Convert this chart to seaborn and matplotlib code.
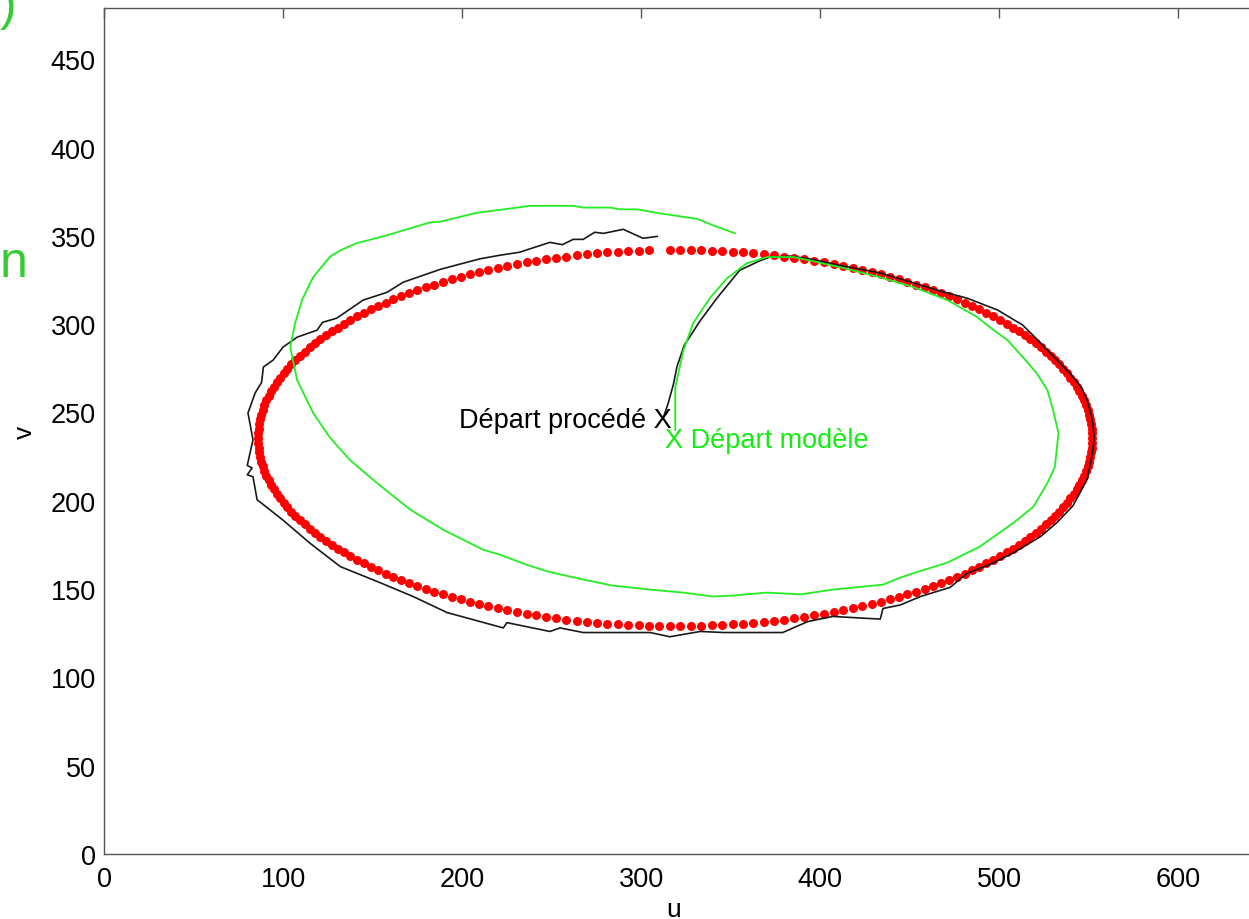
import matplotlib
matplotlib.use("Agg")
import matplotlib.pyplot as plt
import pandas as pd
import seaborn as sns

# trajectoire de référence (points rouges), par quart d'ellipse
ref_u_q1 = [316.1, 321.9, 327.8, 333.6, 339.5, 345.3, 351.1, 356.9, 362.7, 368.4, 374.1, 379.8, 385.4,
            391.0, 396.5, 402.0, 407.5, 412.9, 418.2, 423.5, 428.7, 433.8, 438.9, 443.8, 448.7, 453.6,
            458.3, 463.0, 467.5, 472.0, 476.4, 480.6, 484.8, 488.9, 492.8, 496.6, 500.4, 504.0, 507.5,
            510.9, 514.1, 517.3, 520.3, 523.2, 525.9, 528.6, 531.1, 533.4, 535.6, 537.7, 539.7, 541.5,
            543.2, 544.7, 546.1, 547.3, 548.4, 549.4, 550.2, 550.8, 551.3, 551.7, 551.9, 552.0]
ref_v_q1 = [342.0, 342.0, 341.9, 341.8, 341.6, 341.3, 341.0, 340.6, 340.1, 339.6, 339.0, 338.3, 337.6,
            336.8, 335.9, 335.0, 334.0, 333.0, 331.9, 330.7, 329.5, 328.2, 326.8, 325.4, 324.0, 322.4,
            320.9, 319.2, 317.6, 315.8, 314.0, 312.2, 310.3, 308.4, 306.4, 304.4, 302.3, 300.2, 298.1,
            295.9, 293.7, 291.4, 289.1, 286.8, 284.4, 282.1, 279.6, 277.2, 274.7, 272.2, 269.7, 267.1,
            264.6, 262.0, 259.4, 256.8, 254.1, 251.5, 248.8, 246.2, 243.5, 240.9, 238.2, 235.5]
ref_u_q2 = [551.9, 551.7, 551.3, 550.8, 550.2, 549.4, 548.4, 547.3, 546.1, 544.7, 543.2, 541.5, 539.7,
            537.7, 535.6, 533.4, 531.1, 528.6, 525.9, 523.2, 520.3, 517.3, 514.1, 510.9, 507.5, 504.0,
            500.4, 496.6, 492.8, 488.9, 484.8, 480.6, 476.4, 472.0, 467.5, 463.0, 458.3, 453.6, 448.7,
            443.8, 438.9, 433.8, 428.7, 423.5, 418.2, 412.9, 407.5, 402.0, 396.5, 391.0, 385.4, 379.8,
            374.1, 368.4, 362.7, 356.9, 351.1, 345.3, 339.5, 333.6, 327.8, 321.9]
ref_v_q2 = [232.8, 230.1, 227.5, 224.8, 222.2, 219.5, 216.9, 214.2, 211.6, 209.0, 206.4, 203.9, 201.3,
            198.8, 196.3, 193.8, 191.4, 188.9, 186.6, 184.2, 181.9, 179.6, 177.3, 175.1, 172.9, 170.8,
            168.7, 166.6, 164.6, 162.6, 160.7, 158.8, 157.0, 155.2, 153.4, 151.8, 150.1, 148.6, 147.0,
            145.6, 144.2, 142.8, 141.5, 140.3, 139.1, 138.0, 137.0, 136.0, 135.1, 134.2, 133.4, 132.7,
            132.0, 131.4, 130.9, 130.4, 130.0, 129.7, 129.4, 129.2, 129.1, 129.0]
ref_u_q3 = [316.1, 310.2, 304.4, 298.5, 292.7, 286.9, 281.1, 275.3, 269.6, 263.9, 258.2, 252.6, 247.0,
            241.5, 236.0, 230.5, 225.1, 219.8, 214.5, 209.3, 204.2, 199.1, 194.2, 189.3, 184.4, 179.7,
            175.0, 170.5, 166.0, 161.6, 157.4, 153.2, 149.1, 145.2, 141.4, 137.6, 134.0, 130.5, 127.1,
            123.9, 120.7, 117.7, 114.8, 112.1, 109.4, 106.9, 104.6, 102.4, 100.3, 98.3, 96.5, 94.8,
            93.3, 91.9, 90.7, 89.6, 88.6, 87.8, 87.2, 86.7, 86.3, 86.1, 86.0]
ref_v_q3 = [129.0, 129.1, 129.2, 129.4, 129.7, 130.0, 130.4, 130.9, 131.4, 132.0, 132.7, 133.4, 134.2,
            135.1, 136.0, 137.0, 138.0, 139.1, 140.3, 141.5, 142.8, 144.2, 145.6, 147.0, 148.6, 150.1,
            151.8, 153.4, 155.2, 157.0, 158.8, 160.7, 162.6, 164.6, 166.6, 168.7, 170.8, 172.9, 175.1,
            177.3, 179.6, 181.9, 184.2, 186.6, 188.9, 191.4, 193.8, 196.3, 198.8, 201.3, 203.9, 206.4,
            209.0, 211.6, 214.2, 216.9, 219.5, 222.2, 224.8, 227.5, 230.1, 232.8, 235.5]
ref_u_q4 = [86.1, 86.3, 86.7, 87.2, 87.8, 88.6, 89.6, 90.7, 91.9, 93.3, 94.8, 96.5, 98.3, 100.3,
            102.4, 104.6, 106.9, 109.4, 112.1, 114.8, 117.7, 120.7, 123.9, 127.1, 130.5, 134.0, 137.6,
            141.4, 145.2, 149.1, 153.2, 157.4, 161.6, 166.0, 170.5, 175.0, 179.7, 184.4, 189.3, 194.2,
            199.1, 204.2, 209.3, 214.5, 219.8, 225.1, 230.5, 236.0, 241.5, 247.0, 252.6, 258.2, 263.9,
            269.6, 275.3, 281.1, 286.9, 292.7, 298.5, 304.4]
ref_v_q4 = [238.2, 240.9, 243.5, 246.2, 248.8, 251.5, 254.1, 256.8, 259.4, 262.0, 264.6, 267.1, 269.7,
            272.2, 274.7, 277.2, 279.6, 282.1, 284.4, 286.8, 289.1, 291.4, 293.7, 295.9, 298.1, 300.2,
            302.3, 304.4, 306.4, 308.4, 310.3, 312.2, 314.0, 315.8, 317.6, 319.2, 320.9, 322.4, 324.0,
            325.4, 326.8, 328.2, 329.5, 330.7, 331.9, 333.0, 334.0, 335.0, 335.9, 336.8, 337.6, 338.3,
            339.0, 339.6, 340.1, 340.6, 341.0, 341.3, 341.6, 341.8]

# trajectoire du procédé (noir)
proc_u = [312.5, 315, 318, 320, 324, 333, 342.5, 355, 366.5, 372, 383, 394, 410, 433.5, 450, 466, 482,
          499, 513, 518.5, 528.5, 539.6, 546, 549, 552, 553, 552, 549, 541, 532, 523, 508, 495, 482,
          472.6, 456, 444.7, 435, 433.5, 407, 393, 379, 346, 333, 316, 305, 267.6, 254.7, 249, 225, 223,
          191.6, 172.6, 154, 132, 115, 100, 85.5, 83.2, 80, 82.7, 80, 83.2, 80.4, 84.4, 88, 89, 94.4,
          100, 107.8, 119, 122, 130, 144.7, 158, 167, 187.7, 210, 221, 232, 249, 256, 262, 267.6, 274,
          279, 290, 301, 309]
proc_v = [247.5, 255, 266, 276, 288, 302, 315, 330.5, 336, 338, 338.5, 337, 333.5, 329, 324, 319, 314.7,
          308, 299.5, 294, 283.6, 272, 264, 257, 245.8, 236, 227, 212, 197, 187.5, 179.7, 170.6, 164, 159,
          151, 145.8, 141, 139, 133, 134.5, 131.6, 125.4, 125.4, 126, 123, 125.4, 125.4, 128, 126, 131,
          128, 136.7, 145.8, 153.7, 162.7, 176, 189, 200.6, 213.6, 214.7, 218.6, 220, 234.5, 249.7, 261,
          267, 275.7, 279.6, 287, 292.6, 296.6, 301, 303.4, 313.6, 318, 323.7, 331, 337, 339, 340.7,
          346.3, 345, 348, 348, 352, 351.4, 353.7, 348.6, 349.7]

# trajectoire du modèle (vert)
mod_u = [319, 319, 323.5, 329, 338.5, 348, 359, 370.4, 385, 394.4, 412, 433.5, 452, 471, 487.7, 495,
         504.5, 513.4, 521, 526.8, 530, 533, 531, 526.8, 519, 508, 489, 471, 452, 444.7, 435, 407, 389,
         370, 351, 340, 323.5, 305, 284, 267.6, 247.5, 236, 221, 211.7, 189.4, 171, 152.5, 137.4, 126,
         116.8, 107.8, 104, 106.7, 110.6, 115, 116.8, 126, 132, 141, 158, 182, 187.7, 208, 227, 238,
         262, 267.6, 282.7, 288, 297.8, 310.6, 318, 331.3, 340, 352.5]
mod_v = [240, 264, 285, 300.5, 315, 326, 334.5, 338, 338, 336, 332, 326.5, 321, 313.6, 304, 298, 291,
         281, 272, 262.7, 251.4, 238.4, 219, 210, 196.6, 187.6, 174, 165, 159, 156.5, 152.5, 149.7, 147,
         148, 146.3, 145.8, 148, 149.7, 152, 155.4, 160, 163.8, 169.5, 172.3, 183.6, 195, 210, 223, 236,
         249.7, 268.4, 287, 300.5, 313.6, 323, 326.5, 338, 341.8, 345.8, 350.3, 357.6, 358, 363, 365.5,
         367, 367, 366, 366, 365, 365, 362.7, 361.6, 359.6, 356, 351.4]

x_ticks = [0, 100, 200, 300, 400, 500, 600]
y_ticks = [0, 50, 100, 150, 200, 250, 300, 350, 400, 450]

ref = pd.DataFrame({"u": ref_u_q1 + ref_u_q2 + ref_u_q3 + ref_u_q4,
                    "v": ref_v_q1 + ref_v_q2 + ref_v_q3 + ref_v_q4})
proc = pd.DataFrame({"u": proc_u, "v": proc_v})
mod = pd.DataFrame({"u": mod_u, "v": mod_v})

sns.set_style("white")
plt.rcParams['font.family'] = ['Liberation Sans', 'DejaVu Sans']

fig = plt.figure(figsize=(12.49, 9.2), dpi=100)
ax = fig.add_axes([104 / 1249, 65 / 920, 1155 / 1249, 846 / 920])

sns.scatterplot(data=ref, x="u", y="v", color="#ff0000", s=42, linewidth=0, ax=ax, zorder=2)
sns.lineplot(data=proc, x="u", y="v", sort=False, estimator=None, color="#1a1a1a", lw=1.2, ax=ax, zorder=3)
sns.lineplot(data=mod, x="u", y="v", sort=False, estimator=None, color="#22ee22", lw=1.3, ax=ax, zorder=3)

ax.text(317.3, 241.7, "Départ procédé X", ha="right", va="baseline", fontsize=19.5, color="black")
ax.text(313.4, 230.6, "X Départ modèle", ha="left", va="baseline", fontsize=19.5, color="#11ee11")

ax.set_xlim(0, 645)
ax.set_ylim(0, 479)
ax.set_xticks(x_ticks)
ax.set_yticks(y_ticks)
ax.tick_params(direction="in", length=7, width=1, color="#555555", labelsize=19.5,
               labelcolor="black", top=True, right=True)
ax.tick_params(axis="x", pad=9)
ax.tick_params(axis="y", pad=6)
for sp in ax.spines.values():
    sp.set_color("#555555")
    sp.set_linewidth(1)

ax.set_xlabel("u", fontsize=19, color="black")
ax.xaxis.set_label_coords(318 / 645, -0.051)
ax.set_ylabel("v", fontsize=19, color="black", labelpad=10)

# restes du texte de la diapositive
fig.text(16 / 1249, 1 - 20 / 920, ")", ha="right", va="baseline", fontsize=36, color="#33cc33")
fig.text(0 / 1249, 1 - 277 / 920, "n", ha="left", va="baseline", fontsize=36, color="#33cc33")

fig.savefig("out.png", dpi=100)
